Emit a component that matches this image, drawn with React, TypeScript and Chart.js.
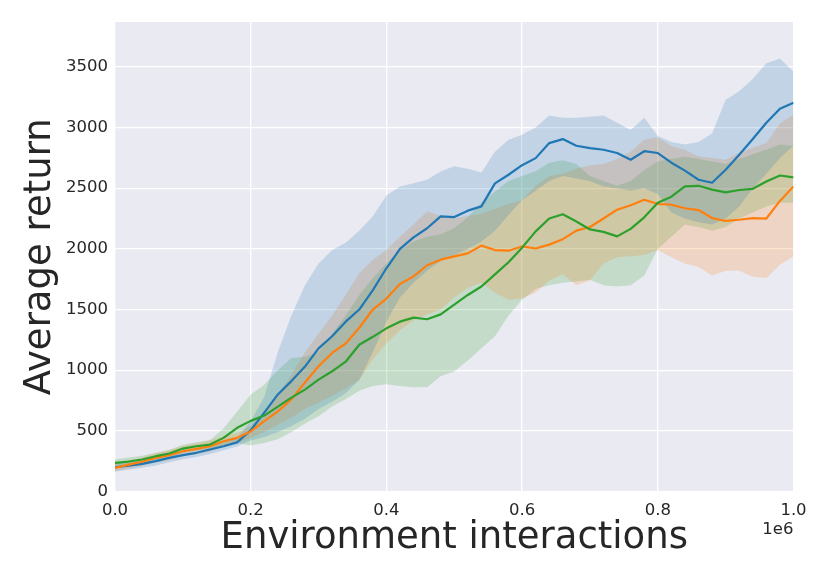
import { useEffect, useRef } from "react";
import { Chart, registerables } from "chart.js";

Chart.register(...registerables);

const steps = [0, 0.02, 0.04, 0.06, 0.08, 0.1, 0.12, 0.14, 0.16, 0.18, 0.2, 0.22, 0.24, 0.26, 0.28, 0.3, 0.32, 0.34, 0.36, 0.38, 0.4, 0.42, 0.44, 0.46, 0.48, 0.5, 0.52, 0.54, 0.56, 0.58, 0.6, 0.62, 0.64, 0.66, 0.68, 0.7, 0.72, 0.74, 0.76, 0.78, 0.8, 0.82, 0.84, 0.86, 0.88, 0.9, 0.92, 0.94, 0.96, 0.98, 1.0];

const blueMean = [200, 214, 228, 250, 277, 300, 319, 346, 373, 405, 505, 650, 800, 910, 1030, 1180, 1280, 1400, 1500, 1660, 1840, 2000, 2095, 2170, 2268, 2262, 2315, 2350, 2540, 2611, 2690, 2748, 2872, 2905, 2850, 2831, 2817, 2790, 2735, 2805, 2790, 2710, 2645, 2570, 2545, 2652, 2776, 2905, 3040, 3155, 3205];
const blueUpper = [240, 250, 265, 285, 310, 335, 355, 380, 405, 440, 580, 780, 1150, 1450, 1700, 1880, 1990, 2050, 2150, 2268, 2440, 2515, 2540, 2570, 2638, 2680, 2660, 2630, 2800, 2900, 2940, 3000, 3100, 3080, 3080, 3090, 3100, 3040, 2980, 3080, 2930, 2880, 2860, 2880, 2950, 3230, 3300, 3400, 3530, 3570, 3460];
const blueLower = [165, 180, 195, 215, 242, 265, 285, 310, 340, 370, 420, 450, 490, 540, 600, 680, 740, 810, 920, 1150, 1400, 1600, 1720, 1820, 1900, 1950, 2000, 2060, 2150, 2280, 2400, 2480, 2560, 2600, 2580, 2560, 2515, 2500, 2480, 2500, 2450, 2300, 2250, 2220, 2200, 2250, 2350, 2500, 2620, 2750, 2850];

const orangeMean = [195, 222, 245, 277, 299, 332, 352, 373, 414, 442, 495, 580, 660, 758, 898, 1032, 1142, 1220, 1350, 1500, 1590, 1710, 1773, 1865, 1911, 1938, 1963, 2027, 1990, 1985, 2020, 2003, 2035, 2080, 2150, 2180, 2250, 2323, 2360, 2405, 2370, 2364, 2335, 2320, 2254, 2230, 2240, 2254, 2250, 2395, 2515];
const orangeUpper = [225, 255, 280, 315, 340, 375, 395, 420, 455, 480, 540, 650, 800, 960, 1150, 1300, 1450, 1620, 1800, 1910, 1990, 2100, 2200, 2310, 2270, 2250, 2270, 2290, 2330, 2370, 2400, 2520, 2600, 2620, 2660, 2690, 2700, 2740, 2800, 2900, 2920, 2845, 2817, 2762, 2750, 2735, 2790, 2833, 2872, 3036, 3105];
const orangeLower = [165, 190, 210, 240, 260, 290, 310, 330, 370, 400, 440, 490, 550, 610, 680, 733, 790, 850, 920, 1090, 1220, 1330, 1410, 1460, 1500, 1600, 1680, 1720, 1640, 1580, 1590, 1640, 1740, 1790, 1700, 1740, 1880, 1930, 1940, 1950, 1990, 1930, 1880, 1850, 1780, 1820, 1820, 1770, 1760, 1870, 1940];

const greenMean = [236, 247, 264, 291, 313, 354, 373, 387, 442, 525, 582, 626, 700, 774, 840, 922, 991, 1070, 1210, 1275, 1345, 1400, 1433, 1420, 1460, 1540, 1620, 1690, 1790, 1890, 2010, 2144, 2250, 2285, 2225, 2160, 2140, 2103, 2165, 2260, 2380, 2430, 2515, 2520, 2488, 2465, 2485, 2495, 2556, 2605, 2590];
const greenUpper = [265, 280, 295, 320, 345, 385, 405, 425, 520, 660, 800, 880, 1000, 1100, 1110, 1150, 1300, 1450, 1620, 1760, 1880, 1990, 2060, 2100, 2120, 2170, 2260, 2380, 2470, 2560, 2600, 2640, 2710, 2730, 2700, 2600, 2560, 2520, 2560, 2650, 2720, 2740, 2760, 2740, 2720, 2700, 2740, 2780, 2820, 2860, 2850];
const greenLower = [205, 215, 230, 255, 280, 320, 340, 350, 380, 400, 380, 400, 430, 490, 560, 620, 700, 760, 830, 870, 885, 870, 860, 860, 950, 990, 1080, 1180, 1280, 1450, 1580, 1670, 1700, 1720, 1730, 1745, 1700, 1690, 1700, 1780, 2000, 2100, 2200, 2180, 2150, 2180, 2250, 2300, 2350, 2380, 2380];

const xTicks = [0, 0.2, 0.4, 0.6, 0.8, 1.0];
const yTicks = [0, 500, 1000, 1500, 2000, 2500, 3000, 3500];

const FONT = "'DejaVu Sans', sans-serif";
const TEXT = "#262626";

export default function App() {
  const ref = useRef<HTMLCanvasElement>(null);

  useEffect(() => {
    document.body.style.margin = "0";
    const canvas = ref.current;
    if (!canvas) return;
    const pts = (arr: number[]) => steps.map((x, i) => ({ x, y: arr[i] }));
    const clear = "rgba(0,0,0,0)";

    const band = (upper: number[], lower: number[], fillColor: string, ord: number) => [
      {
        data: pts(upper),
        fill: "+1",
        backgroundColor: fillColor,
        borderColor: clear,
        borderWidth: 0,
        pointRadius: 0,
        tension: 0,
        order: ord,
      },
      {
        data: pts(lower),
        fill: false,
        backgroundColor: clear,
        borderColor: clear,
        borderWidth: 0,
        pointRadius: 0,
        tension: 0,
        order: ord + 1,
      },
    ];

    const line = (arr: number[], color: string, ord: number) => ({
      data: pts(arr),
      fill: false,
      borderColor: color,
      backgroundColor: color,
      borderWidth: 2.2,
      pointRadius: 0,
      tension: 0,
      borderJoinStyle: "round" as const,
      order: ord,
    });

    const bgPlugin = {
      id: "axesBg",
      beforeDraw(chart: any) {
        const { ctx, chartArea } = chart;
        ctx.save();
        ctx.fillStyle = "#eaeaf2";
        ctx.fillRect(chartArea.left, chartArea.top, chartArea.right - chartArea.left, chartArea.bottom - chartArea.top);
        ctx.restore();
      },
    };

    const offsetPlugin = {
      id: "offsetText",
      afterDraw(chart: any) {
        const { ctx, chartArea } = chart;
        ctx.save();
        ctx.font = `16.5px ${FONT}`;
        ctx.fillStyle = TEXT;
        ctx.textAlign = "right";
        ctx.textBaseline = "middle";
        ctx.fillText("1e6", chartArea.right, 530);
        ctx.restore();
      },
    };

    const chart = new Chart(canvas, {
      type: "line",
      data: {
        datasets: [
          line(blueMean, "#1f77b4", 3),
          line(orangeMean, "#ff7f0e", 2),
          line(greenMean, "#2ca02c", 1),
          ...band(blueUpper, blueLower, "rgba(31,119,180,0.2)", 10),
          ...band(orangeUpper, orangeLower, "rgba(255,127,14,0.2)", 12),
          ...band(greenUpper, greenLower, "rgba(44,160,44,0.2)", 14),
        ] as any,
      },
      options: {
        animation: false,
        responsive: true,
        maintainAspectRatio: false,
        layout: { padding: { top: 22, right: 36.5, left: 0, bottom: 0 } },
        plugins: {
          legend: { display: false },
          tooltip: { enabled: false },
          filler: { drawTime: "beforeDatasetsDraw" },
        } as any,
        scales: {
          x: {
            type: "linear",
            min: 0,
            max: 1,
            afterBuildTicks: (s: any) => {
              s.ticks = xTicks.map((v) => ({ value: v }));
            },
            afterFit: (s: any) => {
              s.height = 89.5;
            },
            border: { display: false },
            grid: { color: "#ffffff", lineWidth: 1.3, drawTicks: false },
            ticks: {
              padding: 9,
              color: TEXT,
              font: { family: FONT, size: 16.5 },
              callback: (v: any) => Number(v).toFixed(1),
            },
            title: {
              display: true,
              text: "Environment interactions",
              color: TEXT,
              font: { family: FONT, size: 37 },
              padding: { top: 0, bottom: 20 },
            },
          },
          y: {
            type: "linear",
            min: 0,
            max: 3870,
            afterBuildTicks: (s: any) => {
              s.ticks = yTicks.map((v) => ({ value: v }));
            },
            afterFit: (s: any) => {
              s.width = 115;
            },
            border: { display: false },
            grid: { color: "#ffffff", lineWidth: 1.3, drawTicks: false },
            ticks: {
              padding: 7,
              color: TEXT,
              font: { family: FONT, size: 16.5 },
              callback: (v: any) => String(v),
            },
            title: {
              display: true,
              text: "Average return",
              color: TEXT,
              font: { family: FONT, size: 37 },
              padding: { top: 18, bottom: 0 },
            },
          },
        },
      },
      plugins: [bgPlugin, offsetPlugin],
    });

    return () => chart.destroy();
  }, []);

  return (
    <div style={{ position: "relative", width: 830, height: 581 }}>
      <canvas ref={ref} />
    </div>
  );
}
